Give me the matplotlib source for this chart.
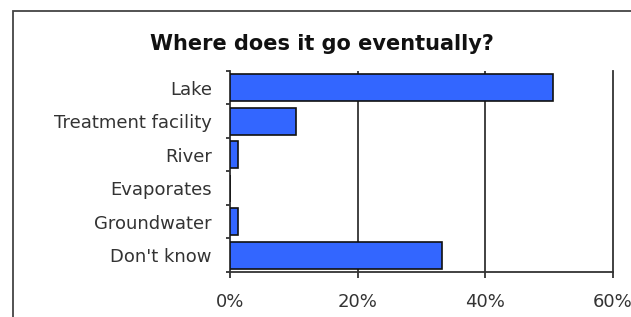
import numpy as np
import matplotlib
matplotlib.use('Agg')
import matplotlib.pyplot as plt
from matplotlib.patches import Rectangle

font = {'family': 'DejaVu Sans', 'size': 11}
matplotlib.rc('font', **font)

categories = ['Lake', 'Treatment facility', 'River', 'Evaporates',
              'Groundwater', "Don't know"]
percent = [50.6, 10.3, 1.2, 0.0, 1.2, 33.2]
x_ticks = [0, 20, 40, 60]
x_labels = ['0%', '20%', '40%', '60%']

dark = '#333333'

fig = plt.figure(figsize=(6.31, 3.17), dpi=100)
fig.patch.set_facecolor('white')

# outer frame, cut off at the right and bottom edges
fig.patches.append(Rectangle((13 / 631, -0.2), 1.0, 1 - 11 / 317 + 0.2,
                             transform=fig.transFigure, fill=False,
                             edgecolor='#444444', linewidth=1.3))

ax = fig.add_axes([230 / 631, 1 - 272 / 317, (613 - 230) / 631, (272 - 71) / 317])
y = np.arange(len(categories))
ax.barh(y, percent, height=0.8, color='#3366ff', edgecolor='#111111',
        linewidth=1.2, zorder=3)

ax.set_xlim(0, 60)
ax.set_ylim(len(categories) - 0.5, -0.5)

for xv in x_ticks[1:-1]:
    ax.axvline(xv, color=dark, linewidth=1.3, zorder=1)

ax.spines['top'].set_visible(False)
for s in ['left', 'bottom', 'right']:
    ax.spines[s].set_color(dark)
    ax.spines[s].set_linewidth(1.3)

ax.set_xticks(x_ticks)
ax.set_xticklabels(x_labels)
ax.tick_params(axis='x', direction='out', length=4, width=1.3, color=dark,
               pad=11, labelcolor=dark, labelsize=13)

ax.set_yticks(y)
ax.set_yticklabels(categories)
ax.set_yticks(np.arange(len(categories) + 1) - 0.5, minor=True)
ax.tick_params(axis='y', which='major', length=0, pad=13, labelcolor=dark,
               labelsize=13)
ax.tick_params(axis='y', which='minor', direction='out', length=3, width=1.3,
               color=dark)

fig.text(322 / 631, 1 - 44 / 317, 'Where does it go eventually?', ha='center',
         va='center', fontsize=15, fontweight='bold', color='#111111')

fig.savefig('out.png', dpi=100)
